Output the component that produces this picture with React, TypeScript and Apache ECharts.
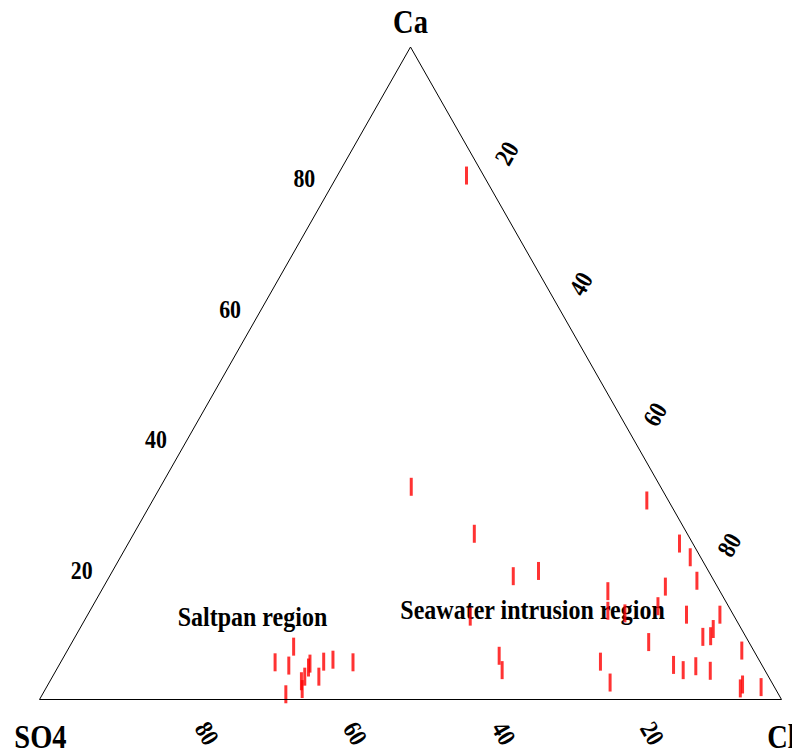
import React, { useEffect, useRef } from "react";
import * as echarts from "echarts";

// Composition (%) of each sample
const caPct = [5.7, 0.8, 5.2, 8.1, 2.8, 1.6, 3.5, 4.9, 5.5, 3.5, 5.8, 6.1, 5.7,
  80.3, 32.6, 25.4, 18.9, 19.7, 12.7, 6.7, 4.5, 5.8, 2.6, 16.6, 13.6, 13.2, 30.5,
  23.9, 21.8, 18.2, 17.3, 14.3, 13.0, 13.0, 8.8, 9.6, 9.7, 10.8, 5.3, 4.5, 5.1,
  4.4, 7.5, 1.7, 2.3, 1.9];
const clPct = [28.9, 32.8, 31.0, 30.2, 33.9, 34.6, 34.0, 33.8, 33.7, 35.9, 35.4, 36.5, 39.4,
  17.4, 33.8, 45.9, 54.4, 57.4, 51.7, 58.6, 60.1, 72.7, 75.6, 68.3, 69.8, 72.3, 66.6,
  74.3, 76.8, 79.5, 75.7, 76.2, 80.7, 85.2, 77.7, 84.6, 85.6, 85.4, 82.8, 84.5, 85.9,
  88.2, 90.9, 93.6, 93.6, 96.3];
const so4Pct = [65.4, 66.4, 63.8, 61.7, 63.3, 63.8, 62.5, 61.3, 60.8, 60.6, 58.8, 57.4, 54.9,
  2.3, 33.6, 28.7, 26.7, 22.9, 35.6, 34.7, 35.4, 21.5, 21.8, 15.1, 16.6, 14.5, 2.9,
  1.8, 1.4, 2.3, 7.0, 9.5, 6.3, 1.8, 13.5, 5.8, 4.7, 3.8, 11.9, 11.0, 9.0,
  7.4, 1.6, 4.7, 4.1, 1.8];

const tickValues = [20, 40, 60, 80];
const vertexNames = ["Ca", "SO4", "Cl"];
const regionNames = ["Saltpan region", "Seawater intrusion region"];
// region label positions as compositions [Ca, Cl, SO4]
const regionPos = [
  [12.6, 22.4, 65.0],
  [13.7, 59.6, 26.7],
];

const FONT = "'Liberation Serif', 'Times New Roman', serif";

function toXY(ca: number, cl: number, so4: number): [number, number] {
  const s = ca + cl + so4;
  const c = ca / s;
  const l = cl / s;
  return [l + c / 2, c];
}

export default function App() {
  const ref = useRef<HTMLDivElement>(null);
  useEffect(() => {
    if (!ref.current) return;
    const chart = echarts.init(ref.current, null, { renderer: "svg" });
    const points = caPct.map((ca, i) => toXY(ca, clPct[i], so4Pct[i]));
    chart.setOption({
      animation: false,
      backgroundColor: "#ffffff",
      grid: { left: 39.5, top: 47, width: 742, height: 652.5, containLabel: false },
      xAxis: { type: "value", min: 0, max: 1, show: false },
      yAxis: { type: "value", min: 0, max: 1, show: false },
      series: [
        {
          type: "line",
          data: [[0, 0], [1, 0], [0.5, 1], [0, 0]],
          symbol: "none",
          lineStyle: { color: "#000", width: 1 },
          silent: true,
        },
        {
          type: "scatter",
          data: points,
          symbol: "rect",
          symbolSize: [3, 18],
          itemStyle: { color: "#ff0000" },
        },
      ],
    });
    const px = (p: [number, number]) => chart.convertToPixel({ gridIndex: 0 }, p) as number[];
    const texts: any[] = [];
    const boldFont = (size: number) => `bold ${size}px ${FONT}`;
    const mk = (x: number, y: number, text: string, size: number, rotation = 0, sy = 1.12) => ({
      type: "text",
      x,
      y,
      rotation,
      scaleX: 0.95,
      scaleY: sy,
      style: { text, font: boldFont(size), fill: "#000", align: "center", verticalAlign: "middle" },
    });
    // vertex labels
    const apex = px([0.5, 1]);
    const left = px([0, 0]);
    const right = px([1, 0]);
    texts.push(mk(apex[0], apex[1] - 25, vertexNames[0], 30));
    texts.push(mk(left[0] + 1, left[1] + 37, vertexNames[1], 30));
    texts.push(mk(right[0], right[1] + 37, vertexNames[2], 30));
    tickValues.forEach((v) => {
      // Ca axis (left edge)
      const pl = px(toXY(v, 0, 100 - v));
      texts.push(mk(pl[0] - 32, pl[1] + 1, String(v), 23));
      // Cl axis (right edge)
      const pr = px(toXY(100 - v, v, 0));
      texts.push(mk(pr[0] + 22, pr[1] - 24, String(v), 23, Math.PI / 3));
      // SO4 axis (bottom edge)
      const pb = px(toXY(0, 100 - v, v));
      texts.push(mk(pb[0] + 19, pb[1] + 34, String(v), 23, -Math.PI / 3));
    });
    regionNames.forEach((name, i) => {
      const p = px(toXY(regionPos[i][0], regionPos[i][1], regionPos[i][2]));
      texts.push({
        type: "text",
        x: p[0],
        y: p[1],
        scaleY: 1.15,
        style: { text: name, font: boldFont(24), fill: "#000", align: "center", verticalAlign: "middle" },
      });
    });
    chart.setOption({ graphic: texts });
    return () => chart.dispose();
  }, []);
  return (
    <div
      ref={ref}
      style={{ position: "fixed", left: 0, top: 0, width: 792, height: 749, background: "#fff" }}
    />
  );
}
